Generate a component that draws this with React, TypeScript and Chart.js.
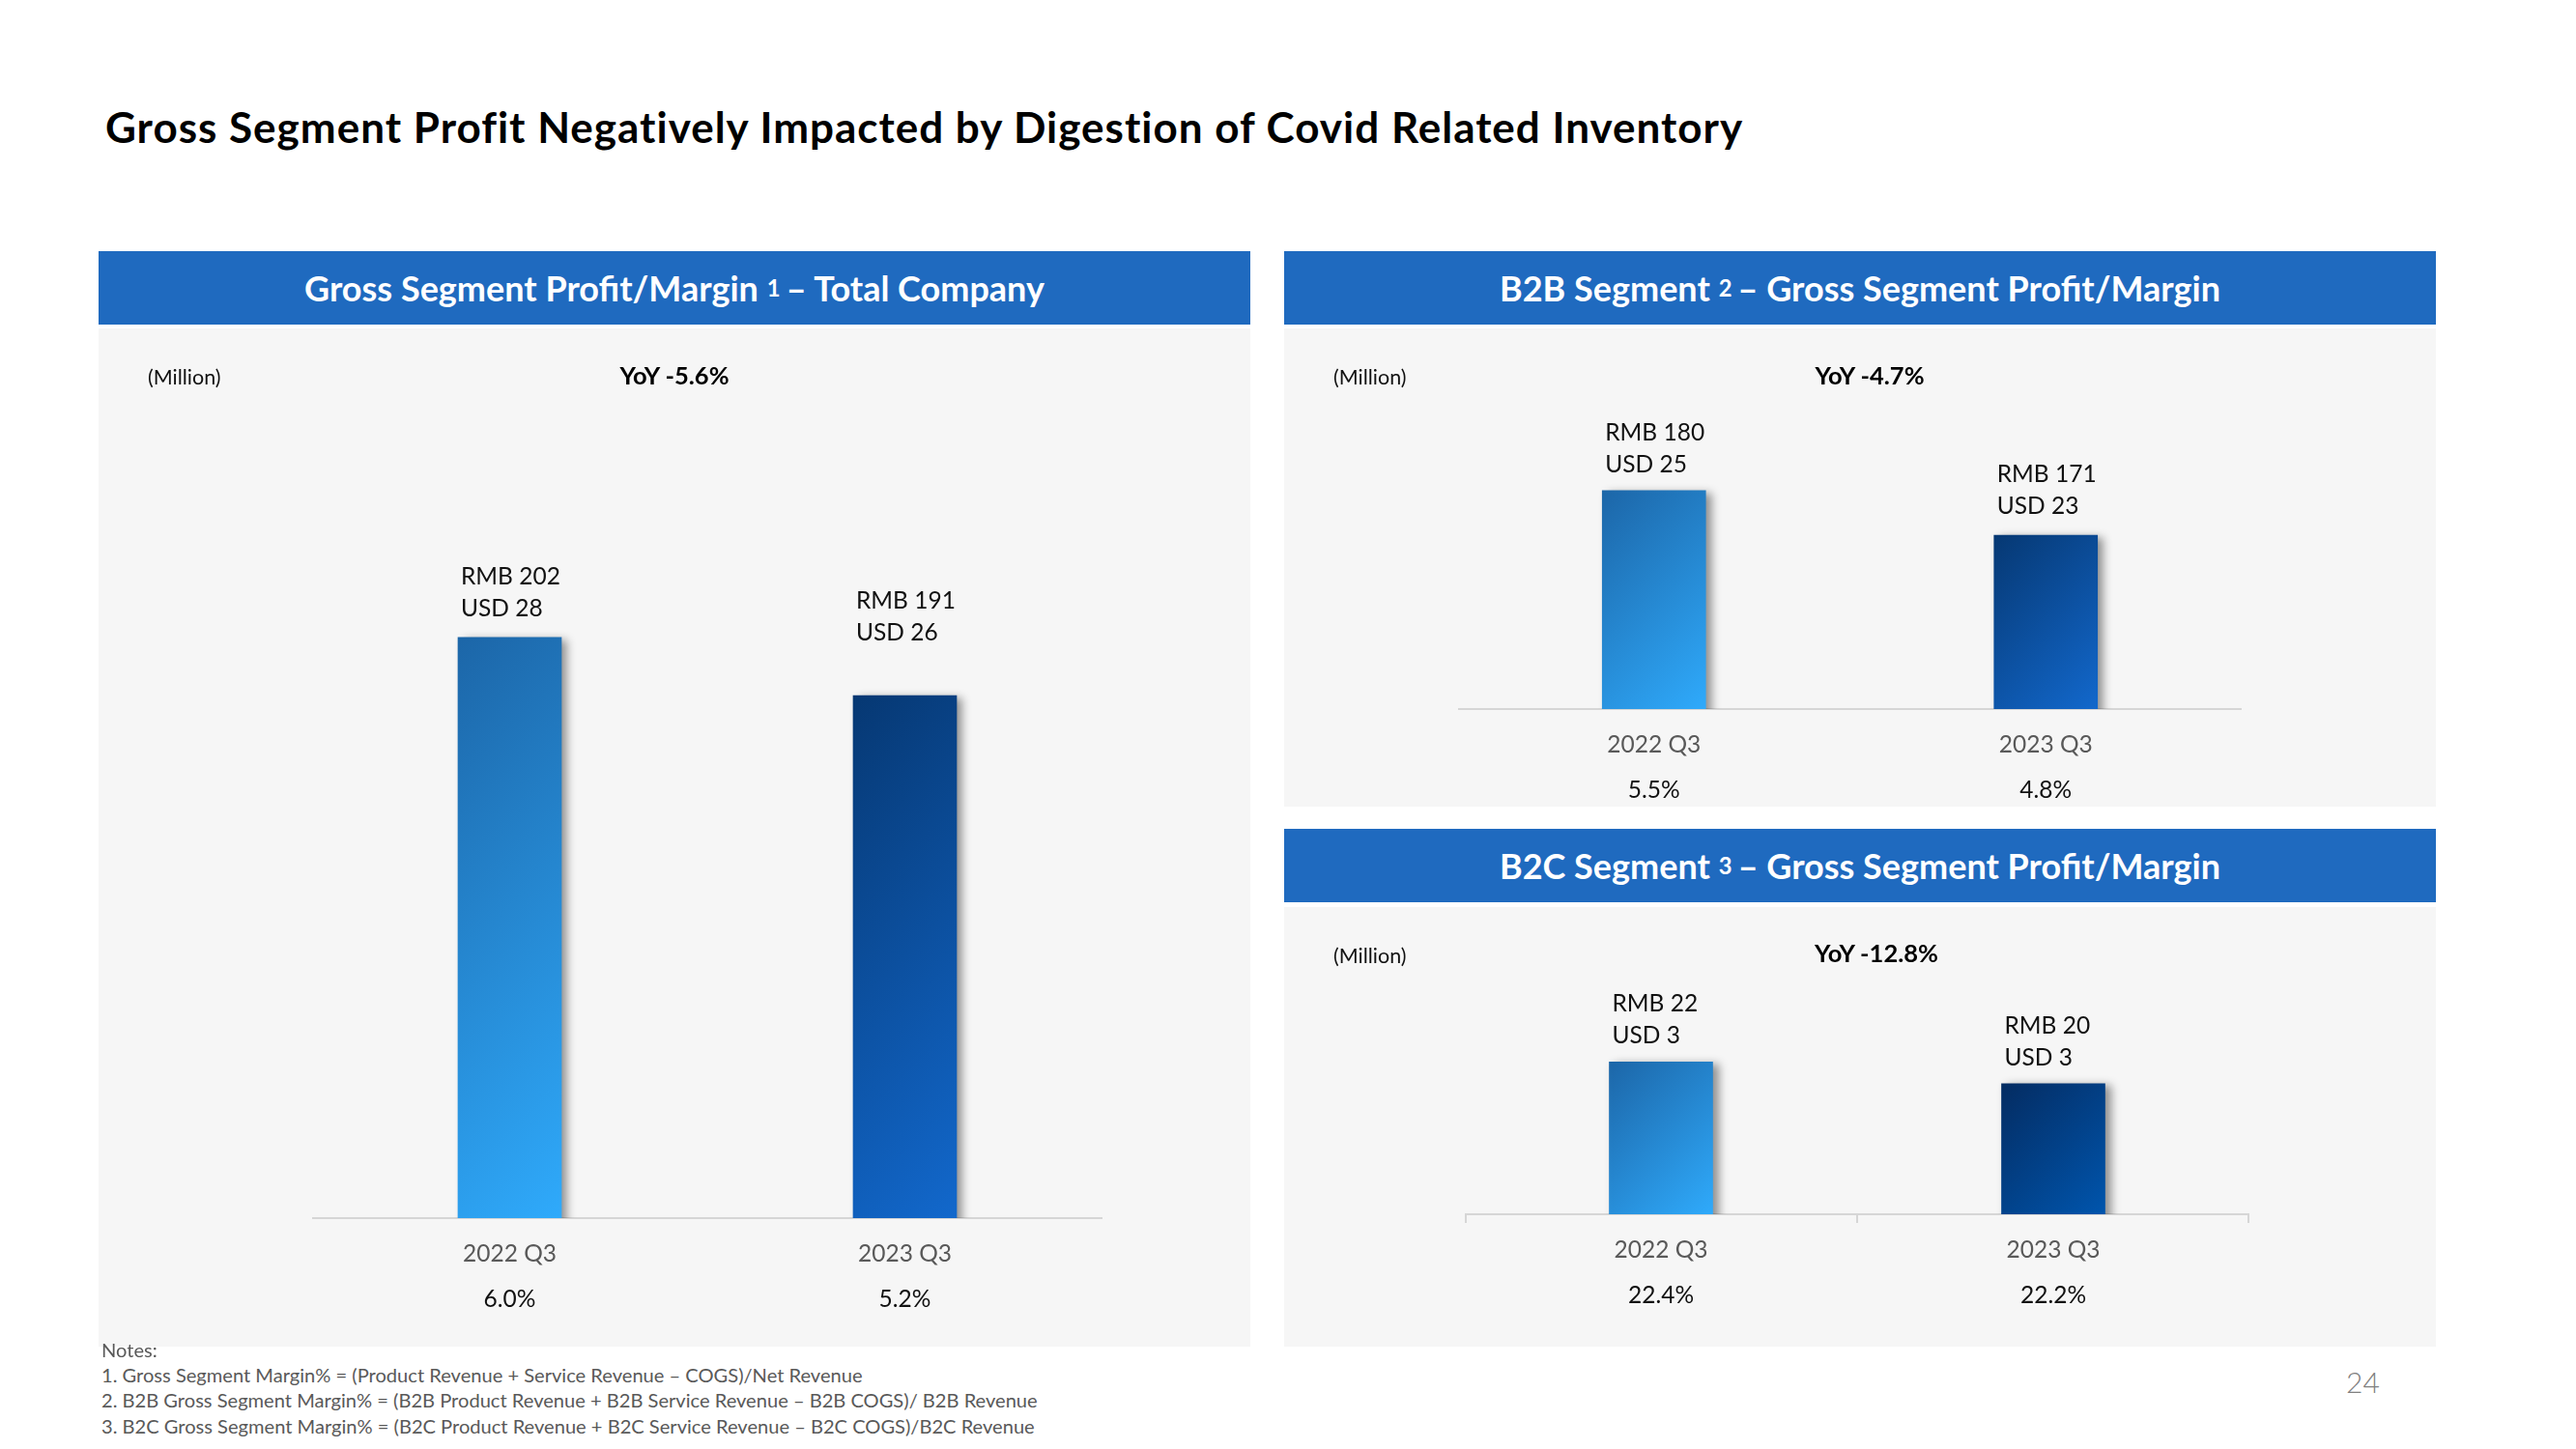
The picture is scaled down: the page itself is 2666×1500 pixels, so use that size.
import React, { useEffect, useRef } from "react";
import { Chart, registerables } from "chart.js";

Chart.register(...registerables);

// ---------- DATA ----------
const categories = ["2022 Q3", "2023 Q3"];

const totalRmb = [202, 191];
const totalUsd = [28, 26];
const totalMargin = ["6.0%", "5.2%"];
const totalYoY = "YoY -5.6%";

const b2bRmb = [180, 171];
const b2bUsd = [25, 23];
const b2bMargin = ["5.5%", "4.8%"];
const b2bYoY = "YoY -4.7%";

const b2cRmb = [22, 20];
const b2cUsd = [3, 3];
const b2cMargin = ["22.4%", "22.2%"];
const b2cYoY = "YoY -12.8%";

const pageTitle =
  "Gross Segment Profit Negatively Impacted by Digestion of Covid Related Inventory";
const notes = [
  "Notes:",
  "1. Gross Segment Margin% = (Product Revenue + Service Revenue \u2013 COGS)/Net Revenue",
  "2. B2B Gross Segment Margin% = (B2B Product Revenue + B2B Service Revenue \u2013 B2B COGS)/ B2B Revenue",
  "3. B2C Gross Segment Margin% = (B2C Product Revenue + B2C Service Revenue \u2013 B2C COGS)/B2C Revenue",
];
const pageNumber = "24";

// ---------- STYLE ----------
const FONT = "Lato, 'Open Sans', sans-serif";
const HEADER_BG = "#1F6ABF";
const BODY_BG = "#F6F6F6";
const BAR_W = 107;

type ChartCfg = {
  rmb: number[];
  usd: number[];
  margin: string[];
  yMin: number;
  yMax: number;
  width: number;
  height: number;
  pad: { left: number; right: number; top: number; bottom: number };
  lift: number[];
  grad: [string, string][];
  tickMarks: boolean;
};

function BarPanelChart({ cfg }: { cfg: ChartCfg }) {
  const ref = useRef<HTMLCanvasElement | null>(null);
  useEffect(() => {
    const canvas = ref.current;
    if (!canvas) return;
    const overlay = {
      id: "overlay",
      beforeDatasetsDraw(chart: any) {
        const { ctx, chartArea } = chart;
        const xs = chart.scales.x;
        ctx.save();
        ctx.strokeStyle = "#D6D6D6";
        ctx.lineWidth = 2;
        ctx.beginPath();
        ctx.moveTo(chartArea.left, chartArea.bottom);
        ctx.lineTo(chartArea.right, chartArea.bottom);
        if (cfg.tickMarks) {
          const mid = (xs.getPixelForValue(0) + xs.getPixelForValue(1)) / 2;
          [chartArea.left + 1, mid, chartArea.right - 1].forEach((x) => {
            ctx.moveTo(x, chartArea.bottom);
            ctx.lineTo(x, chartArea.bottom + 9);
          });
        }
        ctx.stroke();
        ctx.restore();
        ctx.save();
        ctx.shadowColor = "rgba(0,0,0,0.42)";
        ctx.shadowBlur = 9;
        ctx.shadowOffsetX = 6;
        ctx.shadowOffsetY = 2;
      },
      afterDatasetsDraw(chart: any) {
        const { ctx, chartArea } = chart;
        ctx.restore();
        const meta = chart.getDatasetMeta(0);
        ctx.save();
        meta.data.forEach((el: any, i: number) => {
          const left = el.x - BAR_W / 2 + 3;
          const usdBase = el.y - cfg.lift[i];
          ctx.font = `400 24.5px ${FONT}`;
          ctx.fillStyle = "#111111";
          ctx.textAlign = "left";
          ctx.textBaseline = "alphabetic";
          ctx.fillText(`RMB ${cfg.rmb[i]}`, left, usdBase - 33);
          ctx.fillText(`USD ${cfg.usd[i]}`, left, usdBase);
          ctx.textAlign = "center";
          ctx.fillStyle = "#595959";
          ctx.fillText(categories[i], el.x, chartArea.bottom + 45);
          ctx.fillStyle = "#111111";
          ctx.fillText(cfg.margin[i], el.x, chartArea.bottom + 92);
        });
        ctx.restore();
      },
    };
    const chart = new Chart(canvas, {
      type: "bar",
      data: {
        labels: categories,
        datasets: [
          {
            data: cfg.rmb,
            barThickness: BAR_W,
            borderWidth: 0,
            backgroundColor: (c: any) => {
              const ch = c.chart;
              const i = c.dataIndex ?? 0;
              if (!ch.chartArea || c.type !== "data") return cfg.grad[i][1];
              const xs = ch.scales.x;
              const ys = ch.scales.y;
              const x0 = xs.getPixelForValue(i) - BAR_W / 2;
              const y0 = ys.getPixelForValue(cfg.rmb[i]);
              const y1 = ys.getPixelForValue(cfg.yMin);
              const L = (BAR_W + (y1 - y0)) / 2;
              const g = ch.ctx.createLinearGradient(x0, y0, x0 + L, y0 + L);
              g.addColorStop(0, cfg.grad[i][0]);
              g.addColorStop(1, cfg.grad[i][1]);
              return g;
            },
          },
        ],
      },
      options: {
        responsive: false,
        maintainAspectRatio: false,
        animation: false,
        devicePixelRatio: 1,
        layout: { padding: cfg.pad },
        plugins: { legend: { display: false }, tooltip: { enabled: false } },
        scales: {
          x: { display: false },
          y: { display: false, min: cfg.yMin, max: cfg.yMax },
        },
      },
      plugins: [overlay],
    });
    return () => chart.destroy();
  }, [cfg]);
  return (
    <canvas
      ref={ref}
      width={cfg.width}
      height={cfg.height}
      style={{ width: cfg.width, height: cfg.height, display: "block" }}
    />
  );
}

const abs = (l: number, t: number, w?: number, h?: number): React.CSSProperties => ({
  position: "absolute",
  left: l,
  top: t,
  width: w,
  height: h,
});

function Header({ l, t, w, children }: any) {
  return (
    <div
      style={{
        ...abs(l, t, w, 76),
        background: HEADER_BG,
        color: "#FFFFFF",
        fontFamily: FONT,
        fontWeight: 700,
        fontSize: 36,
        display: "flex",
        alignItems: "center",
        justifyContent: "center",
        whiteSpace: "nowrap",
      }}
    >
      {children}
    </div>
  );
}

function TextAt({ x, cy, size, bold, color, align, children, family, spacing }: any) {
  const lh = size * 1.3;
  const style: React.CSSProperties = {
    position: "absolute",
    top: cy - lh / 2,
    lineHeight: `${lh}px`,
    fontSize: size,
    fontFamily: family || FONT,
    fontWeight: bold ? 700 : 400,
    color: color || "#000",
    whiteSpace: "nowrap",
    letterSpacing: spacing || 0,
  };
  if (align === "center") {
    style.left = x - 400;
    style.width = 800;
    style.textAlign = "center";
  } else {
    style.left = x;
  }
  return <div style={style}>{children}</div>;
}

const sup = (n: string) => (
  <sup style={{ fontSize: "0.66em", verticalAlign: "0.55em", lineHeight: 0, margin: "0 6px 0 9px" }}>{n}</sup>
);

const totalCfg: ChartCfg = {
  rmb: totalRmb,
  usd: totalUsd,
  margin: totalMargin,
  yMin: 92,
  yMax: 260,
  width: 1192,
  height: 1054,
  pad: { left: 221, right: 153, top: 3, bottom: 133 },
  lift: [22, 57],
  grad: [
    ["#1C66A8", "#2FAAFB"],
    ["#063873", "#1268CC"],
  ],
  tickMarks: false,
};

const b2bCfg: ChartCfg = {
  rmb: b2bRmb,
  usd: b2bUsd,
  margin: b2bMargin,
  yMin: 136,
  yMax: 208,
  width: 1192,
  height: 495,
  pad: { left: 180, right: 201, top: 24, bottom: 101 },
  lift: [19, 22],
  grad: [
    ["#1C66A8", "#2FAAFB"],
    ["#063873", "#1268CC"],
  ],
  tickMarks: false,
};

const b2cCfg: ChartCfg = {
  rmb: b2cRmb,
  usd: b2cUsd,
  margin: b2cMargin,
  yMin: 8,
  yMax: 34,
  width: 1192,
  height: 455,
  pad: { left: 187, right: 193, top: 25, bottom: 137 },
  lift: [19, 19],
  grad: [
    ["#1C66A8", "#2FAAFB"],
    ["#042C62", "#0055AD"],
  ],
  tickMarks: true,
};

export default function App() {
  return (
    <div style={{ ...abs(0, 0, 2666, 1500), background: "#FFFFFF", overflow: "hidden" }}>
      <TextAt x={109} cy={132} size={44} bold color="#000" spacing={1}>
        {pageTitle}
      </TextAt>

      {/* Left panel */}
      <Header l={102} t={260} w={1192}>
        Gross Segment Profit/Margin{sup("1")}– Total Company
      </Header>
      <div style={{ ...abs(102, 340, 1192, 1054), background: BODY_BG }}>
        <BarPanelChart cfg={totalCfg} />
      </div>
      <TextAt x={153} cy={391} size={21.5} color="#111">(Million)</TextAt>
      <TextAt x={698} cy={389} size={25.5} bold align="center" color="#000">{totalYoY}</TextAt>

      {/* B2B panel */}
      <Header l={1329} t={260} w={1192}>
        B2B Segment{sup("2")}– Gross Segment Profit/Margin
      </Header>
      <div style={{ ...abs(1329, 340, 1192, 495), background: BODY_BG }}>
        <BarPanelChart cfg={b2bCfg} />
      </div>
      <TextAt x={1380} cy={391} size={21.5} color="#111">(Million)</TextAt>
      <TextAt x={1935} cy={389} size={25.5} bold align="center" color="#000">{b2bYoY}</TextAt>

      {/* B2C panel */}
      <Header l={1329} t={858} w={1192}>
        B2C Segment{sup("3")}– Gross Segment Profit/Margin
      </Header>
      <div style={{ ...abs(1329, 939, 1192, 455), background: BODY_BG }}>
        <BarPanelChart cfg={b2cCfg} />
      </div>
      <TextAt x={1380} cy={990} size={21.5} color="#111">(Million)</TextAt>
      <TextAt x={1942} cy={987} size={25.5} bold align="center" color="#000">{b2cYoY}</TextAt>

      {/* Notes */}
      {notes.map((n, i) => (
        <TextAt key={i} x={105} cy={[1397, 1423, 1449, 1476][i]} size={20.1} color="#595959">
          {n}
        </TextAt>
      ))}
      <TextAt x={2428} cy={1430} size={30} color="#808080">
        <span style={{ fontWeight: 300 }}>{pageNumber}</span>
      </TextAt>
    </div>
  );
}
